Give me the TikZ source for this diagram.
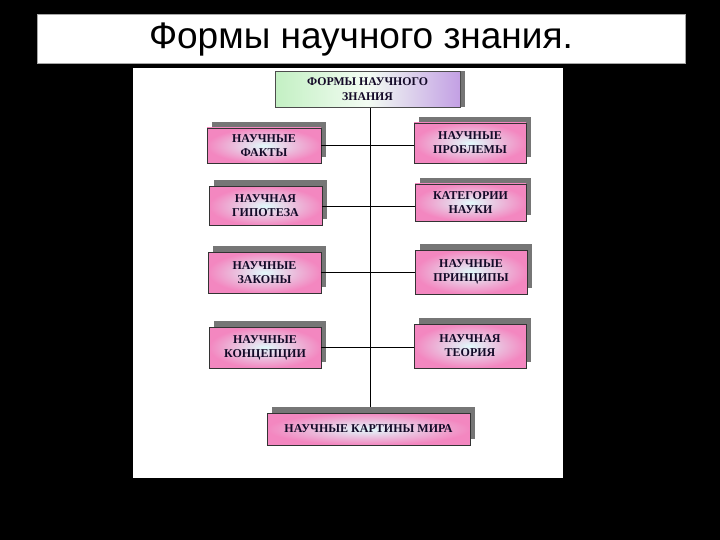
\documentclass[tikz,border=0pt]{standalone}
\usepackage{fontspec}
\setmainfont{Liberation Serif}
\newfontfamily\titlefont{Liberation Sans}
\usetikzlibrary{shadows}
\definecolor{boxpink}{RGB}{243,135,192}
\definecolor{boxcyan}{RGB}{225,250,252}
\definecolor{topgreen}{RGB}{195,240,195}
\definecolor{toplav}{RGB}{195,160,228}
\definecolor{shadowgray}{RGB}{118,118,118}
\definecolor{txt}{RGB}{20,10,40}
\tikzset{
  shd/.style={drop shadow={shadow xshift=5pt, shadow yshift=6pt, fill=shadowgray, opacity=1}},
  pinkbox/.style={shd, draw=black!80, line width=0.6pt, inner color=boxcyan, outer color=boxpink,
    align=center, font=\fontsize{12}{14}\selectfont\bfseries, text=txt, inner sep=0pt},
  topbox/.style={drop shadow={shadow xshift=5pt, shadow yshift=0pt, fill=shadowgray, opacity=1},
    draw=black!70, line width=0.6pt, left color=topgreen, right color=toplav, middle color=white!80!topgreen,
    align=center, font=\fontsize{11.8}{15}\selectfont\bfseries, text=txt, inner sep=0pt},
  conn/.style={draw=black, line width=0.7pt},
}
\begin{document}
\begin{tikzpicture}[x=1pt,y=-1pt]
\fill[black] (0,0) rectangle (720,540);
\useasboundingbox (0,0) rectangle (720,540);
% title
\node[draw=gray!70, line width=1pt, fill=white, minimum width=648pt, minimum height=49pt, inner sep=0pt,
  font=\titlefont\fontsize{37}{40}\selectfont] (title) at (361,39.5) {Формы научного знания.};
% panel
\fill[white] (133,68) rectangle (563,478);
% connectors first (behind boxes)
\coordinate (vt) at (370,107);
\coordinate (vb) at (370,413);
\draw[conn] (vt) -- (vb);
% boxes
\node[topbox, minimum width=185pt, minimum height=36pt] (top) at (367.5,89.5) {ФОРМЫ НАУЧНОГО\\ЗНАНИЯ};
\node[pinkbox, minimum width=114pt, minimum height=35pt] (fakty) at (264,145.5) {НАУЧНЫЕ\\ФАКТЫ};
\node[pinkbox, minimum width=113pt, minimum height=39pt] (gip) at (265.5,206) {НАУЧНАЯ\\ГИПОТЕЗА};
\node[pinkbox, minimum width=113pt, minimum height=41pt] (zak) at (264.5,272.5) {НАУЧНЫЕ\\ЗАКОНЫ};
\node[pinkbox, minimum width=112pt, minimum height=41pt] (konc) at (265,347.5) {НАУЧНЫЕ\\КОНЦЕПЦИИ};
\node[pinkbox, minimum width=112pt, minimum height=40pt] (prob) at (470,143) {НАУЧНЫЕ\\ПРОБЛЕМЫ};
\node[pinkbox, minimum width=111pt, minimum height=37pt] (kat) at (470.5,202.5) {КАТЕГОРИИ\\НАУКИ};
\node[pinkbox, minimum width=112pt, minimum height=44pt] (princ) at (471,272) {НАУЧНЫЕ\\ПРИНЦИПЫ};
\node[pinkbox, minimum width=112pt, minimum height=44pt] (teor) at (470,346) {НАУЧНАЯ\\ТЕОРИЯ};
\node[pinkbox, minimum width=203pt, minimum height=32pt] (kart) at (368.5,429) {НАУЧНЫЕ КАРТИНЫ МИРА};
% horizontal connectors
\draw[conn] (fakty.east) -- (fakty.east -| prob.west);
\draw[conn] (gip.east) -- (gip.east -| kat.west);
\draw[conn] (zak.east) -- (zak.east -| princ.west);
\draw[conn] (konc.east) -- (konc.east -| teor.west);
\end{tikzpicture}
\end{document}
